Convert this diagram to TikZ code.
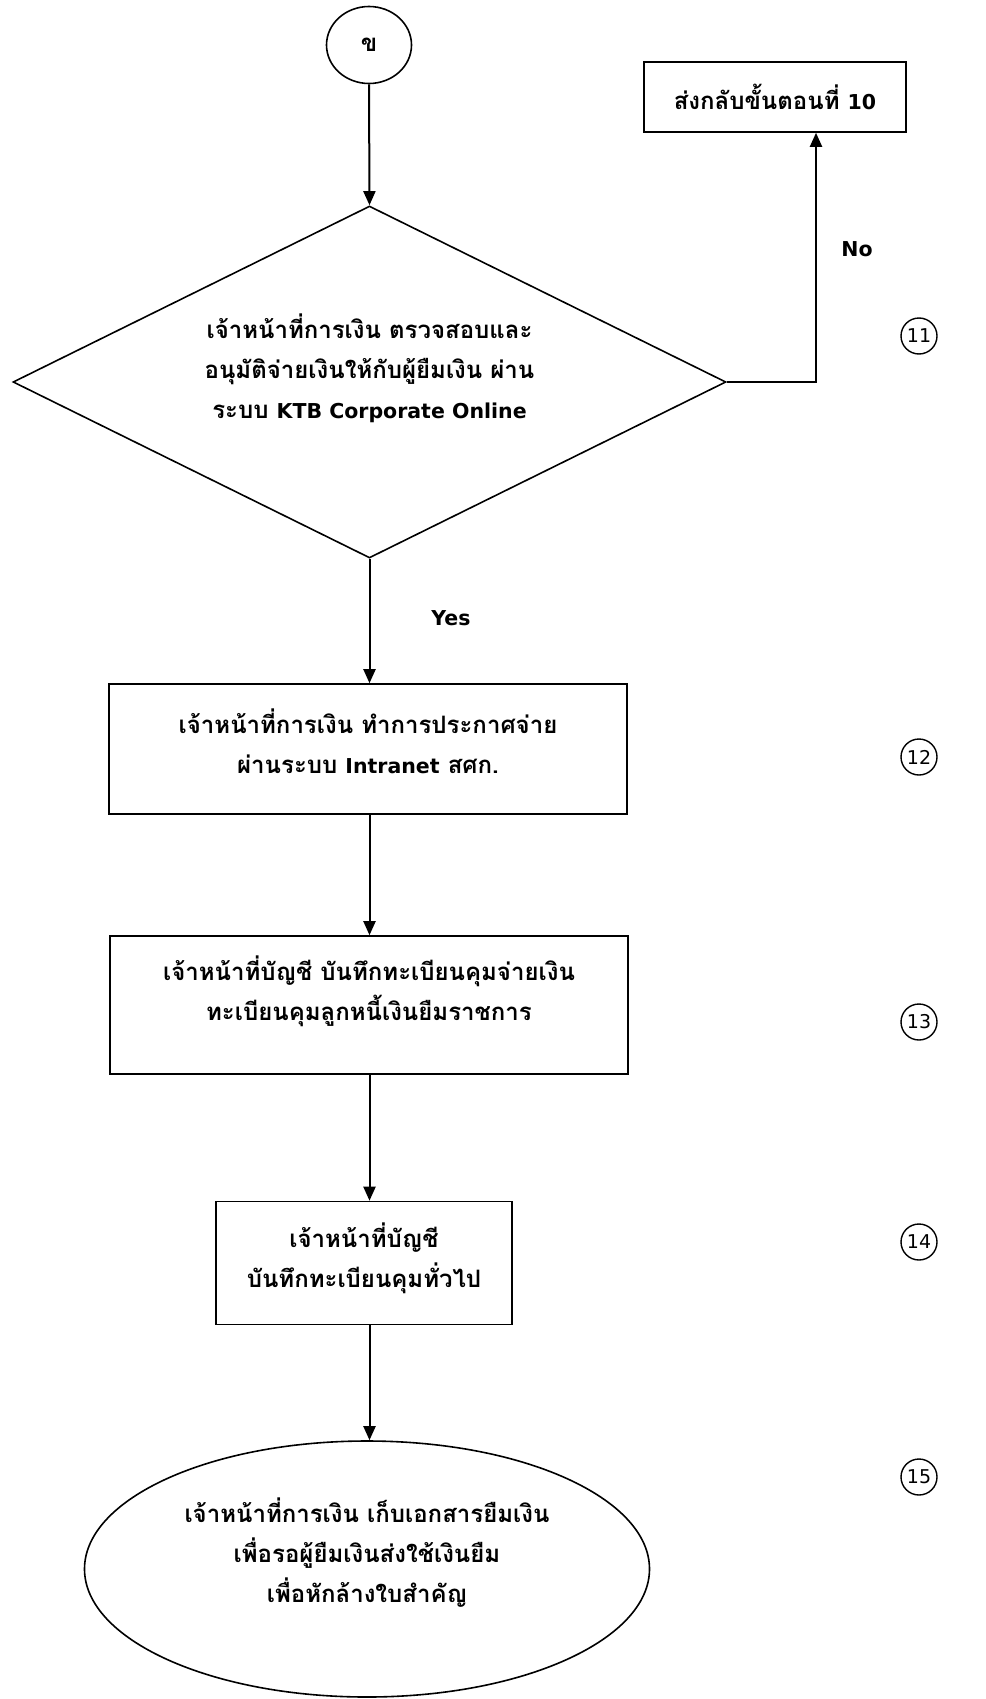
\documentclass[tikz,border=0pt]{standalone}
\usepackage{fontspec}
\newfontfamily\thaifont[Script=Thai]{Loma}
\newfontfamily\latfont{DejaVu Sans}
\usetikzlibrary{shapes.geometric,arrows.meta}
\newcommand\tx[2]{\vbox{\hbox{\begin{tabular}{@{}c@{}}#2\end{tabular}}\kern#1}}
\newcommand\lt[1]{{\latfont\bfseries\fontsize{20.5}{40}\selectfont #1}}
\begin{document}
\begin{tikzpicture}[x=1pt,y=-1pt,
 every node/.style={font=\thaifont\bfseries\fontsize{24}{40}\selectfont},
 shapeline/.style={draw=black,line width=1.6pt},
 procbox/.style={shapeline,rectangle,inner sep=0pt},
 conn/.style={line width=2pt,-{Triangle[length=14pt,width=12pt]}},
 stepnum/.style={circle,draw,line width=1.4pt,minimum size=36pt,inner sep=0pt,font=\latfont\fontsize{19}{20}\selectfont}]
\useasboundingbox (0,0) rectangle (985,1699);
\node[shapeline,ellipse,minimum width=85pt,minimum height=77pt,inner sep=0pt] (c) at (369,45) {ข};
\node[procbox,minimum width=262pt,minimum height=70pt] (r) at (775,97) {ส่งกลับขั้นตอนที่ \lt{10}};
\node[shapeline,diamond,aspect=2,inner sep=0pt,minimum width=713pt,minimum height=352pt] (d) at (369.5,382) {\tx{24pt}{เจ้าหน้าที่การเงิน ตรวจสอบและ\\อนุมัติจ่ายเงินให้กับผู้ยืมเงิน ผ่าน\\ระบบ \lt{KTB Corporate Online}}};
\node[procbox,minimum width=518pt,minimum height=130pt] (b1) at (368,749) {\tx{8pt}{เจ้าหน้าที่การเงิน ทำการประกาศจ่าย\\ผ่านระบบ \lt{Intranet} สศก.}};
\node[procbox,minimum width=518pt,minimum height=138pt] (b2) at (369,1005) {\tx{26pt}{เจ้าหน้าที่บัญชี บันทึกทะเบียนคุมจ่ายเงิน\\ทะเบียนคุมลูกหนี้เงินยืมราชการ}};
\node[procbox,minimum width=296pt,minimum height=123pt] (b3) at (364,1263) {\tx{8pt}{เจ้าหน้าที่บัญชี\\บันทึกทะเบียนคุมทั่วไป}};
\node[shapeline,ellipse,minimum width=565pt,minimum height=256pt,inner sep=0pt] (e) at (367,1569) {\tx{30pt}{เจ้าหน้าที่การเงิน เก็บเอกสารยืมเงิน\\เพื่อรอผู้ยืมเงินส่งใช้เงินยืม\\เพื่อหักล้างใบสำคัญ}};
\node (no) at (857,249) {\lt{No}};
\node (yes) at (451,618) {\lt{Yes}};
\node[stepnum] (s11) at (919,336) {11};
\node[stepnum] (s12) at (919,757) {12};
\node[stepnum] (s13) at (919,1022) {\raisebox{-6pt}{13}};
\node[stepnum] (s14) at (919,1242) {14};
\node[stepnum] (s15) at (919,1477) {15};
\coordinate (nocorner) at (816,382);
\draw[conn] (c.south) -- (d.north);
\draw[conn] (d.east) -- (nocorner) -- (nocorner |- r.south);
\draw[conn] (d.south) -- (d.south |- b1.north);
\draw[conn] (d.south |- b1.south) -- (d.south |- b2.north);
\draw[conn] (d.south |- b2.south) -- (d.south |- b3.north);
\draw[conn] (d.south |- b3.south) -- (d.south |- e.north);
\end{tikzpicture}
\end{document}
